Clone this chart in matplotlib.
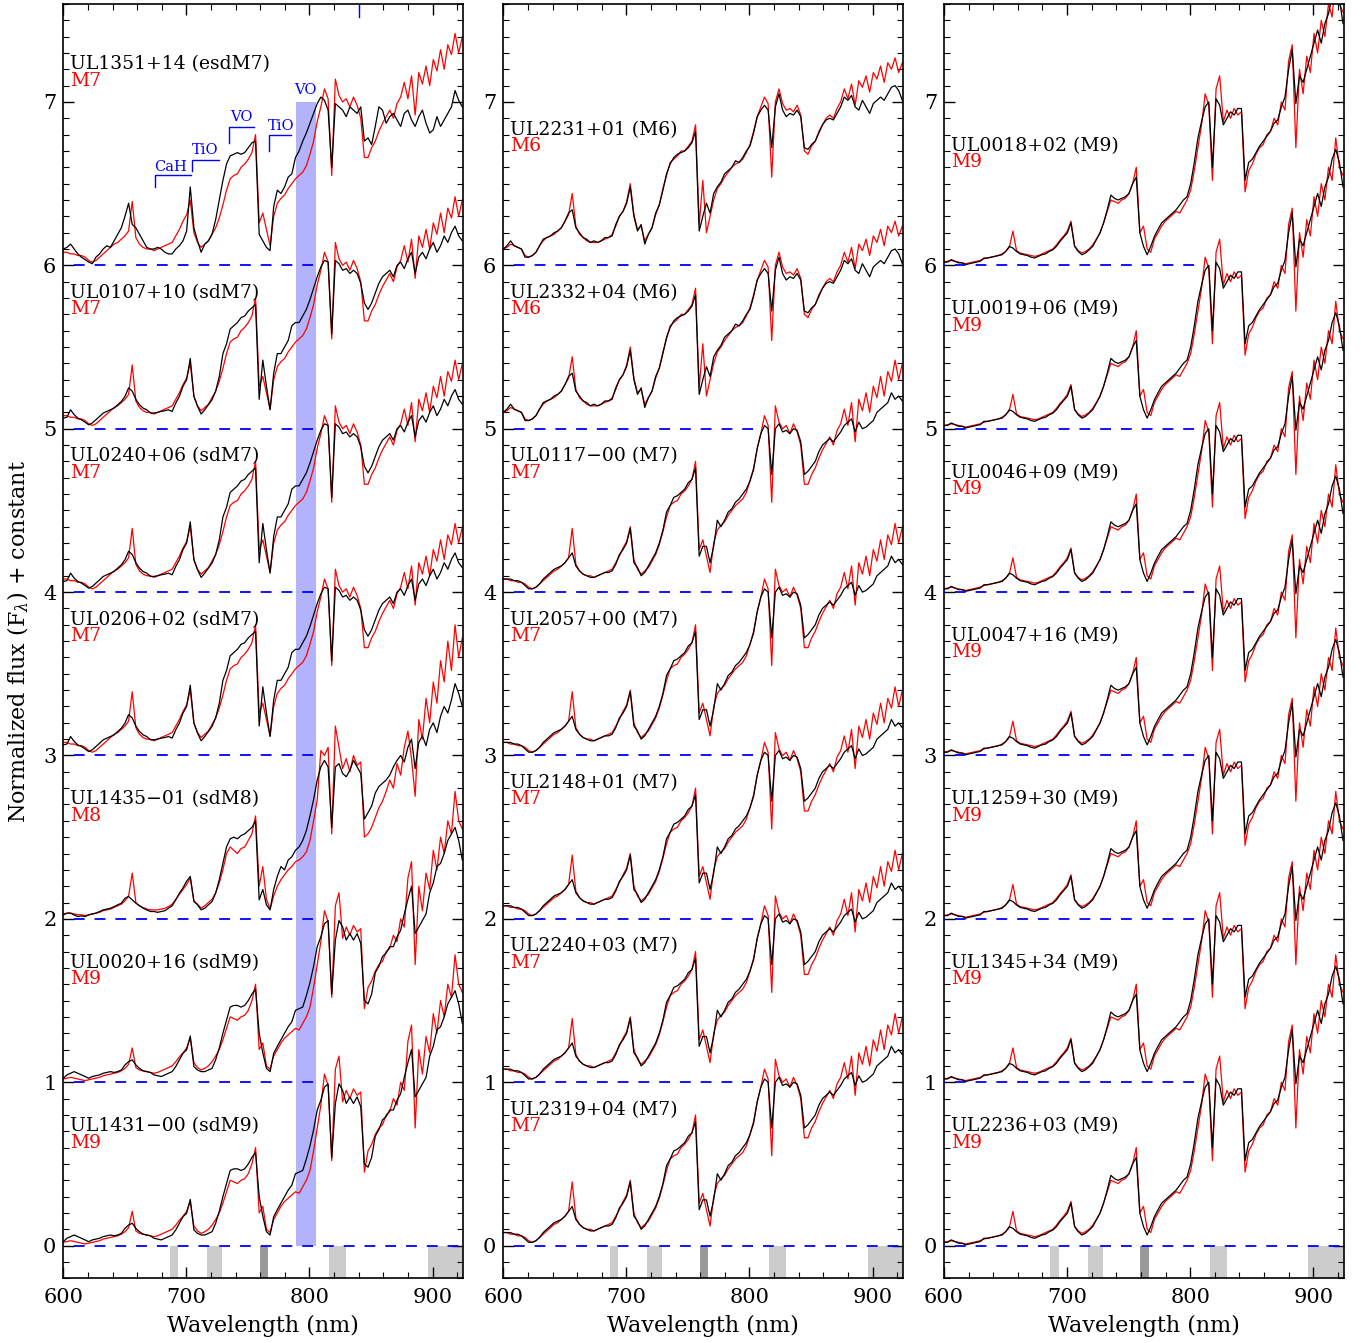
import numpy as np
import matplotlib
matplotlib.use("Agg")
import matplotlib.pyplot as plt
from matplotlib.ticker import MultipleLocator

plt.rcParams['font.family'] = ['DejaVu Serif']
plt.rcParams['mathtext.fontset'] = 'dejavuserif'

# ---------------- data ----------------
# wavelength sampling of the digitised spectra (nm)
wavelength = np.linspace(600.0, 924.2, 111)

# red comparison templates (relative flux, before offset)
red_M6 = [0.10, 0.11, 0.13, 0.12, 0.11, 0.10, 0.06, 0.05, 0.06, 0.08,
          0.12, 0.15, 0.17, 0.18, 0.19, 0.21, 0.23, 0.27, 0.31, 0.44,
          0.24, 0.19, 0.17, 0.15, 0.14, 0.14, 0.14, 0.15, 0.16, 0.17,
          0.19, 0.24, 0.30, 0.33, 0.39, 0.50, 0.31, 0.22, 0.24, 0.15,
          0.19, 0.23, 0.31, 0.37, 0.47, 0.55, 0.63, 0.65, 0.67, 0.70,
          0.70, 0.73, 0.76, 0.86, 0.25, 0.52, 0.20, 0.30, 0.40, 0.47,
          0.50, 0.54, 0.57, 0.60, 0.62, 0.63, 0.65, 0.69, 0.74, 0.82,
          0.91, 0.97, 1.03, 0.99, 0.54, 1.00, 1.08, 0.99, 0.95, 0.96,
          0.94, 0.98, 0.92, 0.70, 0.68, 0.73, 0.76, 0.82, 0.86, 0.90,
          0.92, 0.90, 0.96, 1.00, 1.08, 1.02, 1.11, 0.98, 1.13, 1.09,
          1.16, 1.06, 1.18, 1.14, 1.22, 1.12, 1.24, 1.20, 1.27, 1.18,
          1.24]
red_M7 = [0.08, 0.08, 0.07, 0.07, 0.06, 0.06, 0.05, 0.03, 0.02, 0.03,
          0.05, 0.07, 0.09, 0.11, 0.13, 0.14, 0.16, 0.18, 0.21, 0.39,
          0.17, 0.13, 0.11, 0.10, 0.10, 0.09, 0.10, 0.11, 0.12, 0.13,
          0.14, 0.18, 0.22, 0.27, 0.31, 0.40, 0.20, 0.14, 0.11, 0.13,
          0.15, 0.19, 0.23, 0.29, 0.37, 0.46, 0.53, 0.55, 0.56, 0.60,
          0.62, 0.65, 0.69, 0.80, 0.26, 0.32, 0.22, 0.12, 0.30, 0.38,
          0.41, 0.43, 0.47, 0.50, 0.53, 0.55, 0.57, 0.61, 0.68, 0.76,
          0.88, 0.97, 1.08, 1.02, 0.55, 1.14, 1.04, 1.00, 1.02, 0.97,
          1.03, 0.98, 0.90, 0.66, 0.66, 0.72, 0.76, 0.82, 0.87, 0.91,
          0.95, 0.90, 0.99, 1.03, 1.12, 1.02, 1.16, 0.92, 1.18, 1.11,
          1.22, 1.10, 1.26, 1.19, 1.32, 1.20, 1.35, 1.29, 1.42, 1.30,
          1.40]
red_M8 = [0.03, 0.035, 0.035, 0.03, 0.025, 0.025, 0.02, 0.025, 0.03, 0.035,
          0.04, 0.05, 0.055, 0.06, 0.07, 0.08, 0.09, 0.11, 0.14, 0.28,
          0.10, 0.08, 0.07, 0.06, 0.055, 0.055, 0.055, 0.06, 0.065, 0.075,
          0.09, 0.12, 0.15, 0.18, 0.21, 0.25, 0.11, 0.09, 0.065, 0.08,
          0.10, 0.12, 0.16, 0.22, 0.30, 0.40, 0.44, 0.42, 0.40, 0.43,
          0.44, 0.48, 0.52, 0.63, 0.20, 0.32, 0.12, 0.06, 0.14, 0.20,
          0.24, 0.27, 0.30, 0.32, 0.35, 0.36, 0.38, 0.41, 0.48, 0.60,
          0.73, 1.03, 1.00, 1.05, 0.52, 1.18, 1.05, 0.92, 0.98, 0.90,
          1.00, 0.94, 0.96, 0.50, 0.52, 0.56, 0.62, 0.68, 0.72, 0.78,
          0.85, 0.80, 0.95, 0.88, 1.05, 1.15, 0.98, 0.75, 1.22, 1.10,
          1.35, 1.20, 1.45, 1.32, 1.58, 1.45, 1.70, 1.52, 1.80, 1.60,
          1.72]
red_M9 = [0.02, 0.025, 0.03, 0.025, 0.02, 0.015, 0.01, 0.015, 0.02, 0.025,
          0.03, 0.04, 0.045, 0.05, 0.055, 0.06, 0.07, 0.085, 0.11, 0.21,
          0.09, 0.075, 0.07, 0.065, 0.06, 0.055, 0.06, 0.07, 0.08, 0.09,
          0.10, 0.125, 0.155, 0.18, 0.21, 0.27, 0.12, 0.09, 0.075, 0.085,
          0.10, 0.125, 0.16, 0.20, 0.26, 0.33, 0.40, 0.39, 0.38, 0.40,
          0.41, 0.44, 0.50, 0.60, 0.20, 0.24, 0.10, 0.08, 0.16, 0.20,
          0.24, 0.27, 0.29, 0.31, 0.33, 0.32, 0.36, 0.40, 0.46, 0.58,
          0.72, 0.86, 1.05, 0.98, 0.52, 1.08, 1.16, 0.88, 0.95, 0.90,
          0.96, 0.92, 0.94, 0.45, 0.58, 0.62, 0.68, 0.72, 0.74, 0.80,
          0.82, 0.90, 0.86, 1.00, 0.95, 1.25, 1.35, 0.72, 1.20, 1.05,
          1.28, 1.18, 1.42, 1.30, 1.50, 1.40, 1.60, 1.52, 1.78, 1.60,
          1.55]

# black observed spectra, by spectral class (relative flux, before offset)
black_esdM7 = [0.10, 0.11, 0.13, 0.10, 0.07, 0.05, 0.035, 0.02, 0.01, 0.05,
               0.07, 0.10, 0.12, 0.11, 0.15, 0.19, 0.23, 0.30, 0.38, 0.25,
               0.23, 0.19, 0.15, 0.11, 0.10, 0.10, 0.11, 0.10, 0.08, 0.07,
               0.07, 0.10, 0.12, 0.15, 0.21, 0.48, 0.23, 0.15, 0.08, 0.13,
               0.15, 0.19, 0.28, 0.40, 0.52, 0.62, 0.67, 0.68, 0.69, 0.68,
               0.69, 0.72, 0.75, 0.76, 0.19, 0.15, 0.11, 0.09, 0.36, 0.46,
               0.44, 0.48, 0.54, 0.56, 0.66, 0.70, 0.76, 0.81, 0.87, 0.93,
               0.99, 1.03, 1.01, 0.95, 0.60, 0.99, 0.97, 0.95, 0.91, 0.97,
               0.95, 0.93, 0.97, 0.76, 0.78, 0.74, 0.85, 0.97, 0.95, 0.87,
               0.91, 0.93, 0.89, 0.85, 0.93, 0.95, 0.89, 0.85, 0.91, 0.95,
               0.87, 0.81, 0.83, 0.91, 0.85, 0.89, 0.93, 0.97, 1.07, 1.01,
               0.97]
black_sdM7 = [0.065, 0.07, 0.116, 0.086, 0.065, 0.055, 0.04, 0.024, 0.035, 0.055,
              0.075, 0.096, 0.106, 0.116, 0.126, 0.147, 0.167, 0.198, 0.25, 0.23,
              0.18, 0.147, 0.126, 0.116, 0.096, 0.096, 0.10, 0.106, 0.11, 0.116,
              0.106, 0.157, 0.198, 0.26, 0.30, 0.43, 0.198, 0.137, 0.09, 0.116,
              0.147, 0.177, 0.23, 0.32, 0.46, 0.52, 0.61, 0.63, 0.65, 0.68,
              0.69, 0.72, 0.74, 0.76, 0.18, 0.42, 0.26, 0.116, 0.34, 0.46,
              0.46, 0.50, 0.54, 0.63, 0.65, 0.65, 0.69, 0.73, 0.79, 0.86,
              0.93, 0.99, 1.03, 1.02, 0.58, 1.03, 1.01, 0.97, 0.98, 0.95,
              0.97, 0.95, 0.89, 0.77, 0.73, 0.77, 0.83, 0.89, 0.93, 0.95,
              0.97, 0.93, 1.00, 1.02, 0.98, 1.04, 1.08, 0.95, 1.05, 1.08,
              1.04, 1.10, 1.14, 1.08, 1.12, 1.18, 1.14, 1.20, 1.24, 1.18,
              1.15]
black_sdM8 = [0.024, 0.035, 0.035, 0.024, 0.014, 0.018, 0.014, 0.024, 0.03, 0.035,
              0.045, 0.055, 0.06, 0.065, 0.075, 0.086, 0.096, 0.126, 0.137, 0.116,
              0.096, 0.08, 0.065, 0.055, 0.045, 0.045, 0.04, 0.045, 0.05, 0.065,
              0.08, 0.116, 0.157, 0.19, 0.23, 0.26, 0.106, 0.086, 0.055, 0.065,
              0.086, 0.106, 0.157, 0.24, 0.34, 0.44, 0.49, 0.50, 0.49, 0.51,
              0.52, 0.54, 0.56, 0.60, 0.116, 0.18, 0.086, 0.055, 0.18, 0.26,
              0.32, 0.30, 0.36, 0.38, 0.42, 0.44, 0.48, 0.54, 0.63, 0.73,
              0.85, 0.93, 0.97, 0.93, 0.56, 0.93, 0.95, 0.89, 0.87, 0.91,
              0.97, 0.93, 0.89, 0.61, 0.65, 0.69, 0.77, 0.81, 0.83, 0.85,
              0.88, 0.93, 0.97, 1.00, 0.96, 1.05, 1.10, 0.92, 1.08, 1.12,
              1.06, 1.16, 1.20, 1.14, 1.24, 1.30, 1.26, 1.34, 1.44, 1.38,
              1.30]
black_sdM9 = [0.024, 0.045, 0.055, 0.065, 0.055, 0.045, 0.035, 0.024, 0.035, 0.04,
              0.045, 0.055, 0.06, 0.065, 0.06, 0.065, 0.075, 0.106, 0.126, 0.137,
              0.106, 0.085, 0.07, 0.065, 0.06, 0.045, 0.04, 0.035, 0.045, 0.055,
              0.065, 0.096, 0.137, 0.177, 0.198, 0.283, 0.096, 0.075, 0.065, 0.065,
              0.075, 0.085, 0.137, 0.21, 0.30, 0.38, 0.46, 0.47, 0.47, 0.46,
              0.47, 0.50, 0.54, 0.57, 0.30, 0.18, 0.085, 0.065, 0.177, 0.22,
              0.26, 0.30, 0.34, 0.37, 0.44, 0.45, 0.46, 0.53, 0.61, 0.71,
              0.83, 0.89, 0.97, 0.99, 0.54, 0.87, 0.99, 0.95, 0.87, 0.91,
              0.87, 0.91, 0.85, 0.50, 0.48, 0.54, 0.67, 0.71, 0.77, 0.79,
              0.83, 0.83, 0.89, 0.93, 1.03, 1.12, 1.20, 0.91, 0.95, 0.99,
              1.03, 1.16, 1.22, 1.32, 1.34, 1.40, 1.48, 1.52, 1.56, 1.48,
              1.36]
black_M6 = [0.10, 0.12, 0.15, 0.12, 0.11, 0.10, 0.05, 0.05, 0.06, 0.08,
            0.12, 0.16, 0.17, 0.18, 0.20, 0.21, 0.23, 0.27, 0.32, 0.34,
            0.23, 0.20, 0.17, 0.16, 0.14, 0.15, 0.14, 0.15, 0.17, 0.17,
            0.18, 0.25, 0.30, 0.33, 0.38, 0.48, 0.30, 0.21, 0.25, 0.13,
            0.19, 0.23, 0.32, 0.37, 0.46, 0.56, 0.62, 0.66, 0.68, 0.69,
            0.70, 0.72, 0.75, 0.82, 0.21, 0.30, 0.38, 0.32, 0.44, 0.48,
            0.51, 0.56, 0.58, 0.60, 0.64, 0.63, 0.66, 0.70, 0.73, 0.81,
            0.91, 0.95, 0.98, 0.95, 0.72, 0.97, 1.05, 0.95, 0.91, 0.93,
            0.92, 0.95, 0.91, 0.72, 0.71, 0.74, 0.76, 0.81, 0.86, 0.89,
            0.90, 0.89, 0.93, 0.97, 1.03, 1.01, 1.04, 0.97, 0.95, 1.01,
            0.97, 0.93, 0.99, 1.01, 1.03, 1.01, 1.05, 1.09, 1.10, 1.07,
            1.01]
black_M7 = [0.08, 0.08, 0.08, 0.07, 0.07, 0.06, 0.04, 0.02, 0.02, 0.03,
            0.05, 0.08, 0.10, 0.12, 0.14, 0.15, 0.16, 0.18, 0.21, 0.24,
            0.16, 0.13, 0.11, 0.10, 0.09, 0.09, 0.10, 0.11, 0.12, 0.12,
            0.13, 0.17, 0.23, 0.26, 0.30, 0.39, 0.18, 0.15, 0.10, 0.12,
            0.16, 0.20, 0.24, 0.30, 0.38, 0.49, 0.53, 0.58, 0.59, 0.61,
            0.63, 0.67, 0.69, 0.76, 0.22, 0.28, 0.28, 0.18, 0.28, 0.44,
            0.40, 0.44, 0.49, 0.51, 0.55, 0.57, 0.60, 0.63, 0.68, 0.75,
            0.88, 0.97, 1.02, 1.00, 0.72, 1.00, 1.03, 0.98, 0.99, 0.97,
            1.00, 0.99, 0.92, 0.72, 0.74, 0.77, 0.80, 0.86, 0.90, 0.92,
            0.94, 0.92, 0.95, 0.98, 1.02, 1.04, 1.06, 0.98, 1.04, 1.00,
            1.01, 1.03, 1.05, 1.10, 1.12, 1.14, 1.16, 1.22, 1.18, 1.20,
            1.17]
black_M9 = [0.02, 0.02, 0.035, 0.025, 0.015, 0.015, 0.005, 0.01, 0.015, 0.02,
            0.025, 0.045, 0.045, 0.05, 0.055, 0.06, 0.065, 0.085, 0.116, 0.106,
            0.085, 0.07, 0.065, 0.06, 0.05, 0.045, 0.055, 0.065, 0.07, 0.085,
            0.095, 0.116, 0.147, 0.173, 0.198, 0.26, 0.116, 0.085, 0.065, 0.075,
            0.095, 0.116, 0.157, 0.198, 0.26, 0.34, 0.43, 0.41, 0.40, 0.41,
            0.42, 0.44, 0.50, 0.54, 0.198, 0.116, 0.065, 0.116, 0.177, 0.22,
            0.26, 0.28, 0.30, 0.32, 0.34, 0.37, 0.40, 0.42, 0.50, 0.63,
            0.78, 0.88, 0.97, 1.00, 0.60, 1.02, 0.98, 0.86, 0.90, 0.94,
            0.92, 0.96, 0.96, 0.52, 0.63, 0.65, 0.69, 0.73, 0.76, 0.79,
            0.82, 0.87, 0.89, 0.97, 1.03, 1.20, 1.32, 0.99, 1.16, 1.12,
            1.20, 1.28, 1.36, 1.44, 1.36, 1.48, 1.54, 1.65, 1.71, 1.63,
            1.48]

red_templates = {"M6": red_M6, "M7": red_M7, "M8": red_M8, "M9": red_M9}
black_spectra = {"esdM7": black_esdM7, "sdM7": black_sdM7, "sdM8": black_sdM8,
                 "sdM9": black_sdM9, "M6": black_M6, "M7": black_M7, "M9": black_M9}

offsets = [6, 5, 4, 3, 2, 1, 0]

left_names = ["UL1351+14 (esdM7)", "UL0107+10 (sdM7)", "UL0240+06 (sdM7)",
              "UL0206+02 (sdM7)", "UL1435\u221201 (sdM8)", "UL0020+16 (sdM9)",
              "UL1431\u221200 (sdM9)"]
left_class = ["esdM7", "sdM7", "sdM7", "sdM7", "sdM8", "sdM9", "sdM9"]
left_ref = ["M7", "M7", "M7", "M7", "M8", "M9", "M9"]

mid_names = ["UL2231+01 (M6)", "UL2332+04 (M6)", "UL0117\u221200 (M7)",
             "UL2057+00 (M7)", "UL2148+01 (M7)", "UL2240+03 (M7)", "UL2319+04 (M7)"]
mid_class = ["M6", "M6", "M7", "M7", "M7", "M7", "M7"]
mid_ref = ["M6", "M6", "M7", "M7", "M7", "M7", "M7"]

right_names = ["UL0018+02 (M9)", "UL0019+06 (M9)", "UL0046+09 (M9)",
               "UL0047+16 (M9)", "UL1259+30 (M9)", "UL1345+34 (M9)", "UL2236+03 (M9)"]
right_class = ["M9"] * 7
right_ref = ["M9"] * 7

# telluric bands (nm)
telluric_light = [(686.5, 693.3), (716.8, 729.3), (815.8, 829.9), (896.0, 925.0)]
telluric_dark = [(759.5, 766.3)]

# VO highlighted band (nm)
vo_band = (788.7, 805.0)

# ---------------- figure ----------------
fig = plt.figure(figsize=(13.64, 13.43), dpi=100)
panel_x = [0.04641, 0.36899, 0.69208]
panels = [
    (left_names, left_class, left_ref, [7.20, 5.80, 4.80, 3.80, 2.70, 1.70, 0.70]),
    (mid_names, mid_class, mid_ref, [6.80, 5.80, 4.80, 3.80, 2.80, 1.80, 0.80]),
    (right_names, right_class, right_ref, [6.70, 5.70, 4.70, 3.70, 2.70, 1.70, 0.70]),
]

for pi, (names, classes, refs, label_y) in enumerate(panels):
    ax = fig.add_axes([panel_x[pi], 0.04818, 0.29326, 0.94889])
    ax.set_xlim(600, 925)
    ax.set_ylim(-0.2, 7.6)

    for a, b in telluric_light:
        ax.fill_between([a, b], -0.2, 0.0, color='#cccccc', lw=0, zorder=1)
    for a, b in telluric_dark:
        ax.fill_between([a, b], -0.2, 0.0, color='#999999', lw=0, zorder=1)

    if pi == 0:
        ax.fill_between([vo_band[0], vo_band[1]], 0, 7.0, color='#b3b3fb', lw=0, zorder=1)

    for off in offsets:
        x_end = 925 if off == 0 else 805
        ax.plot([600, x_end], [off, off], color='#0000ff', lw=1.3,
                linestyle=(5.5, (6, 5.5)), zorder=4)

    for off, cls, ref in zip(offsets, classes, refs):
        ax.plot(wavelength, np.asarray(red_templates[ref]) + off, color='red', lw=0.9, zorder=2)
        ax.plot(wavelength, np.asarray(black_spectra[cls]) + off, color='black', lw=0.9, zorder=3)

    for name, ref, yb in zip(names, refs, label_y):
        ax.text(605.5, yb, name, fontsize=13.5, color='black', ha='left', va='baseline', zorder=5)
        ax.text(605.5, yb - 0.10, ref, fontsize=13.5, color='red', ha='left', va='baseline', zorder=5)

    if pi == 0:
        bc = '#0000ff'
        ax.plot([674.9, 674.9, 703.6], [6.48, 6.55, 6.55], color=bc, lw=1.0, zorder=5)
        ax.plot([704.6, 704.6, 726.3], [6.58, 6.647, 6.647], color=bc, lw=1.0, zorder=5)
        ax.plot([735.0, 735.0, 754.9], [6.748, 6.848, 6.848], color=bc, lw=1.0, zorder=5)
        ax.plot([766.8, 766.8, 785.2], [6.70, 6.80, 6.80], color=bc, lw=1.0, zorder=5)
        ax.plot([840.6, 840.6], [7.52, 7.62], color=bc, lw=1.0, zorder=5, clip_on=True)
        ax.text(686.8, 6.575, "CaH", color=bc, fontsize=10.5, ha='center', va='baseline')
        ax.text(715.2, 6.68, "TiO", color=bc, fontsize=10.5, ha='center', va='baseline')
        ax.text(744.4, 6.883, "VO", color=bc, fontsize=10.5, ha='center', va='baseline')
        ax.text(776.9, 6.83, "TiO", color=bc, fontsize=10.5, ha='center', va='baseline')
        ax.text(796.9, 7.05, "VO", color=bc, fontsize=10.5, ha='center', va='baseline')

    ax.xaxis.set_major_locator(MultipleLocator(100))
    ax.xaxis.set_minor_locator(MultipleLocator(20))
    ax.yaxis.set_major_locator(MultipleLocator(1))
    ax.yaxis.set_minor_locator(MultipleLocator(0.1))
    ax.tick_params(which='both', direction='in', top=True, right=True)
    ax.tick_params(which='major', length=8, width=1.0, labelsize=15)
    ax.tick_params(which='minor', length=4, width=0.8)
    ax.tick_params(axis='x', which='major', pad=7)
    ax.tick_params(axis='y', which='major', pad=5)
    for s in ax.spines.values():
        s.set_linewidth(1.2)
    ax.set_xlabel("Wavelength (nm)", fontsize=16, labelpad=6)

fig.text(0.0135, 0.522, r"Normalized flux (F$_\lambda$) + constant", rotation=90,
         fontsize=16, ha='center', va='center')

fig.savefig("out.png", dpi=100)
